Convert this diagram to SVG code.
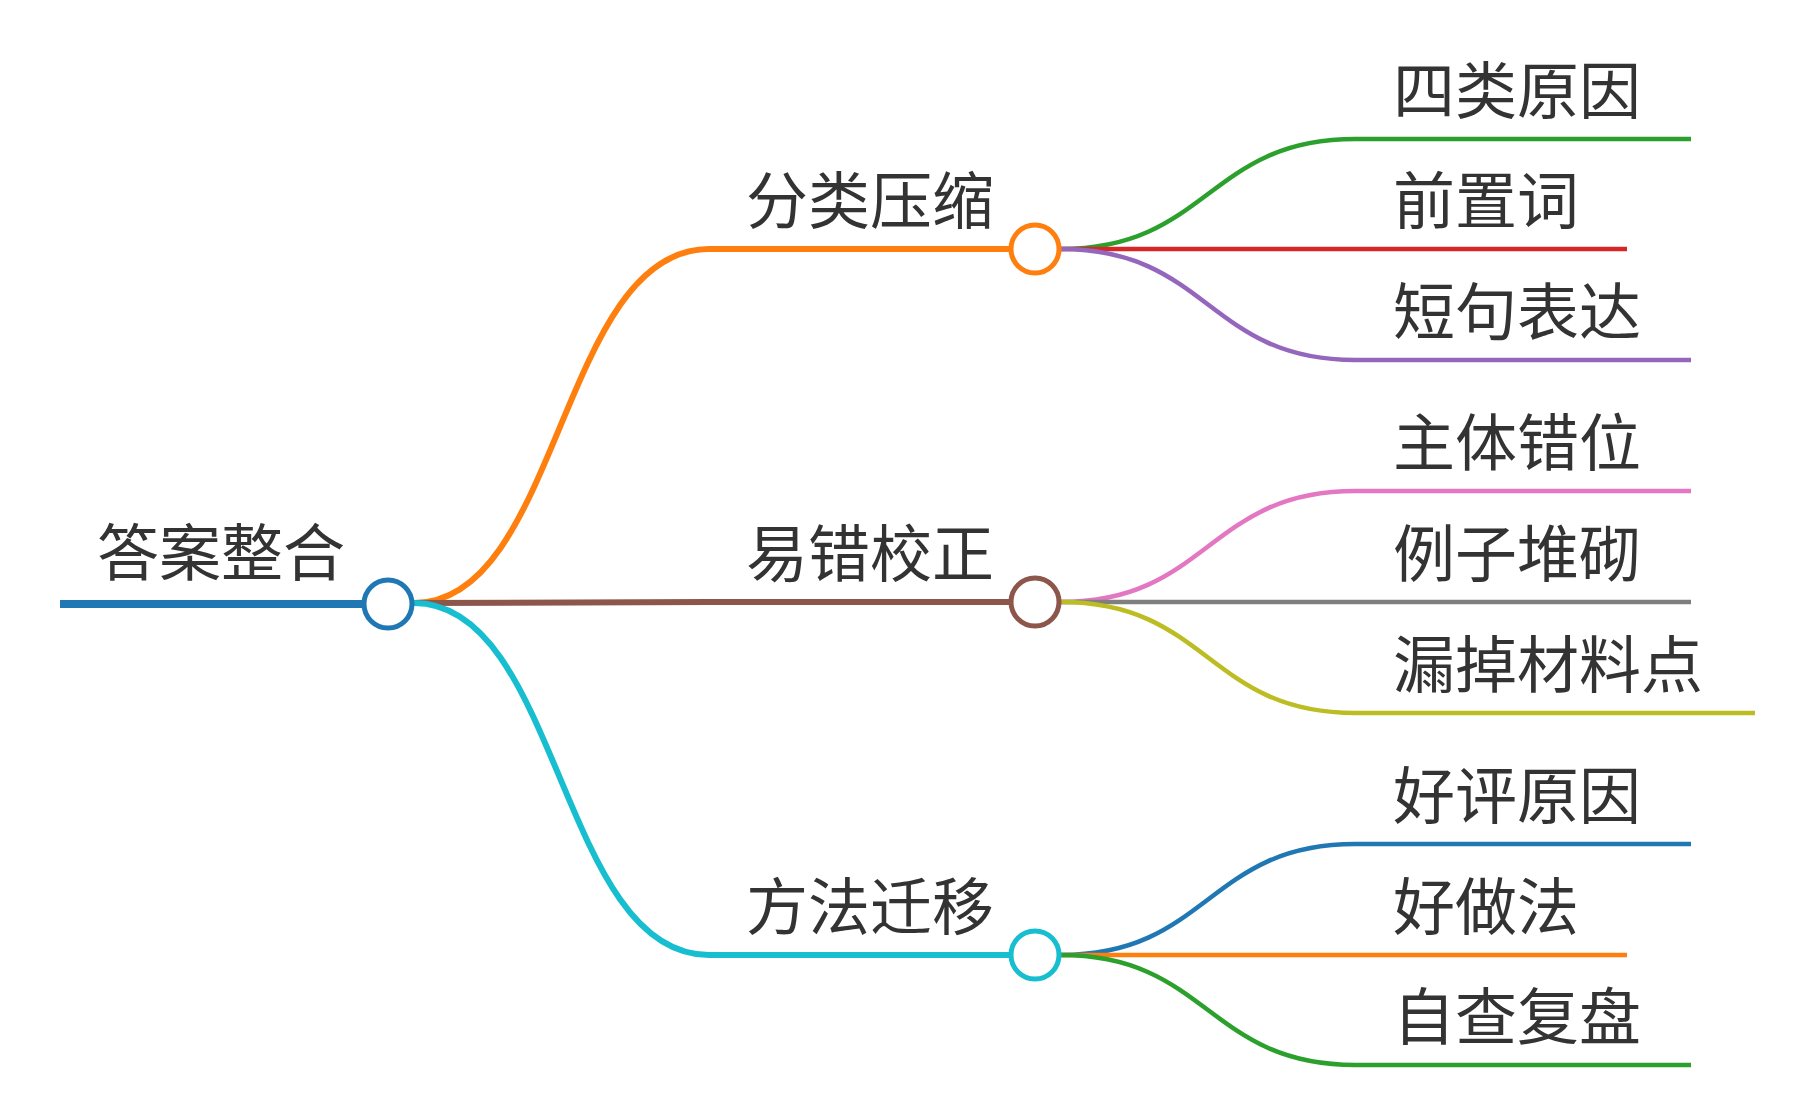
<svg xmlns="http://www.w3.org/2000/svg" width="1795" height="1116" viewBox="0 0 1795 1116">
<style>
text{font-family:"Noto Sans CJK SC","Noto Sans",sans-serif;font-size:62px;fill:#333}
.c path{fill:none;stroke-linecap:butt}
.b{stroke-width:6}.l{stroke-width:4.5}
circle{fill:#fff;stroke-width:5}
</style>
<rect width="1795" height="1116" fill="#fff"/>
<g class="c" id="connectors">
<path d="M60 604H362" stroke="#1f77b4" stroke-width="8"/>
<path class="b" d="M414 603C560 603 560 249 709 249H1010" stroke="#ff7f0e"/>
<path class="b" d="M414 603L709 602H1010" stroke="#8c564b"/>
<path class="b" d="M414 603C560 603 560 955 709 955H1010" stroke="#17becf"/>
<path class="l" d="M1061 249C1208 249 1208 139 1355 139H1691" stroke="#2ca02c"/>
<path class="l" d="M1061 249L1355 249H1627" stroke="#d62728"/>
<path class="l" d="M1061 249C1208 249 1208 360 1355 360H1691" stroke="#9467bd"/>
<path class="l" d="M1061 602C1208 602 1208 491 1355 491H1691" stroke="#e377c2"/>
<path class="l" d="M1061 602L1355 602H1691" stroke="#7f7f7f"/>
<path class="l" d="M1061 602C1208 602 1208 713 1355 713H1755" stroke="#bcbd22"/>
<path class="l" d="M1061 955C1208 955 1208 844 1355 844H1691" stroke="#1f77b4"/>
<path class="l" d="M1061 955L1355 955H1627" stroke="#ff7f0e"/>
<path class="l" d="M1061 955C1208 955 1208 1065 1355 1065H1691" stroke="#2ca02c"/>
</g>
<g id="root"><circle cx="388" cy="604" r="24" stroke="#1f77b4"/><text x="97" y="576">答案整合</text></g>
<g id="n1"><circle cx="1035" cy="249" r="24" stroke="#ff7f0e"/><text x="746" y="224">分类压缩</text></g>
<g id="n2"><circle cx="1035" cy="602" r="24" stroke="#8c564b"/><text x="746" y="577">易错校正</text></g>
<g id="n3"><circle cx="1035" cy="955" r="24" stroke="#17becf"/><text x="746" y="930">方法迁移</text></g>
<g id="l1"><text x="1393" y="114">四类原因</text></g>
<g id="l2"><text x="1393" y="224">前置词</text></g>
<g id="l3"><text x="1393" y="335">短句表达</text></g>
<g id="l4"><text x="1393" y="466">主体错位</text></g>
<g id="l5"><text x="1393" y="577">例子堆砌</text></g>
<g id="l6"><text x="1393" y="688">漏掉材料点</text></g>
<g id="l7"><text x="1393" y="819">好评原因</text></g>
<g id="l8"><text x="1393" y="930">好做法</text></g>
<g id="l9"><text x="1393" y="1040">自查复盘</text></g>
</svg>
